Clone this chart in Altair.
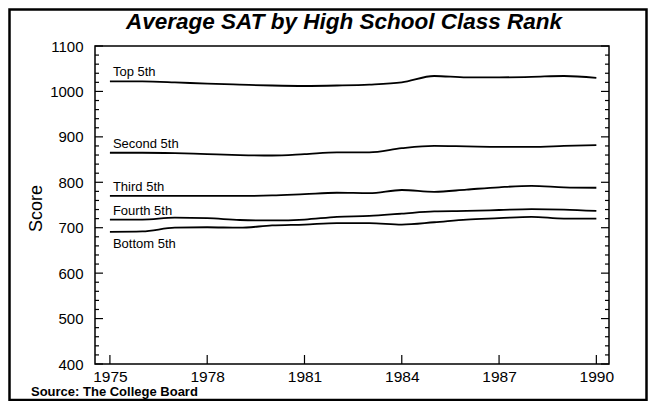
import altair as alt
import pandas as pd

years = list(range(1975, 1991))
top_5th = [1022, 1022, 1020, 1017, 1015, 1013, 1012, 1013, 1015, 1020, 1034, 1031, 1031, 1032, 1034, 1030]
second_5th = [865, 865, 864, 862, 860, 859, 862, 866, 866, 875, 880, 879, 878, 878, 880, 882]
third_5th = [770, 770, 770, 770, 770, 771, 774, 777, 776, 783, 779, 784, 789, 792, 789, 788]
fourth_5th = [718, 718, 722, 721, 717, 716, 718, 724, 726, 731, 736, 737, 739, 741, 740, 737]
bottom_5th = [691, 692, 700, 701, 700, 705, 707, 710, 710, 707, 712, 718, 721, 724, 720, 720]

series_names = ["Top 5th", "Second 5th", "Third 5th", "Fourth 5th", "Bottom 5th"]
series_values = [top_5th, second_5th, third_5th, fourth_5th, bottom_5th]

x_tick_values = [1975, 1978, 1981, 1984, 1987, 1990]
y_major_ticks = [400, 500, 600, 700, 800, 900, 1000, 1100]
y_minor_ticks = [420, 440, 460, 480, 520, 540, 560, 580, 620, 640, 660, 680,
                 720, 740, 760, 780, 820, 840, 860, 880, 920, 940, 960, 980,
                 1020, 1040, 1060, 1080]

title_text = "Average SAT by High School Class Rank"
source_text = "Source: The College Board"

FONT = "Liberation Sans"
W, H = 514, 318

rows = []
for name, vals in zip(series_names, series_values):
    for yr, v in zip(years, vals):
        rows.append({"year": yr, "score": v, "series": name})
df = pd.DataFrame(rows)

lab_df = pd.DataFrame({"series": series_names,
                       "year": [years[0]] * len(series_names),
                       "score": [v[0] for v in series_values]})

xscale = alt.Scale(domain=[1974.54, 1990.39], nice=False, zero=False)
yscale = alt.Scale(domain=[400, 1100], nice=False, zero=False)

xaxis = alt.Axis(values=x_tick_values, format="d", ticks=False, tickSize=0, domain=False,
                 grid=False, title=None, labelFontSize=15.5, labelFont=FONT,
                 labelColor="black", labelPadding=5)
yaxis = alt.Axis(values=y_major_ticks, format="d", ticks=False, tickSize=0, domain=False, grid=False,
                 title="Score", titleFont=FONT, titleFontSize=18, titleFontWeight="normal",
                 titleColor="black", titleX=-50, titleY=162, titleAngle=-90,
                 labelFontSize=15, labelFont=FONT, labelColor="black", labelPadding=12)

X = lambda f: alt.X(f, scale=xscale, axis=xaxis)
Y = lambda f: alt.Y(f, scale=yscale, axis=yaxis)

lines = alt.Chart(df).mark_line(color="black", strokeWidth=1.8, interpolate="monotone").encode(
    x=X("year:Q"), y=Y("score:Q"), detail="series:N",
)

labels_above = alt.Chart(lab_df).transform_filter(
    alt.datum.series != "Bottom 5th"
).mark_text(align="left", baseline="alphabetic", dx=3, dy=-5, fontSize=13, font=FONT, color="black").encode(
    x=X("year:Q"), y=Y("score:Q"), text="series:N",
)
labels_below = alt.Chart(lab_df).transform_filter(
    alt.datum.series == "Bottom 5th"
).mark_text(align="left", baseline="top", dx=3, dy=6, fontSize=13, font=FONT, color="black").encode(
    x=X("year:Q"), y=Y("score:Q"), text="series:N",
)

ymaj = pd.DataFrame({"score": y_major_ticks})
ymin = pd.DataFrame({"score": y_minor_ticks})
xt = pd.DataFrame({"year": x_tick_values})

def yrule(d, x1, x2):
    return alt.Chart(d).mark_rule(color="black", strokeWidth=1.2).encode(
        y=Y("score:Q"), x=alt.value(x1), x2=alt.value(x2))

tick_layers = [
    yrule(ymaj, 0, 8), yrule(ymin, 0, 4),
    yrule(ymaj, W, W - 8), yrule(ymin, W, W - 4),
    alt.Chart(xt).mark_rule(color="black", strokeWidth=1.2).encode(
        x=X("year:Q"), y=alt.value(H), y2=alt.value(H - 9)),
]

frame = alt.Chart(alt.Data(values=[{}])).mark_rect(filled=False, stroke="black", strokeWidth=2.5).encode(
    x=alt.value(-85.5), x2=alt.value(551.5), y=alt.value(-36.5), y2=alt.value(354))

title = alt.Chart(alt.Data(values=[{"t": title_text}])).mark_text(
    align="center", baseline="alphabetic", fontSize=22.5, fontStyle="italic", fontWeight="bold",
    font=FONT, color="black"
).encode(x=alt.value(249), y=alt.value(-17), text="t:N")

source = alt.Chart(alt.Data(values=[{"t": source_text}])).mark_text(
    align="left", baseline="alphabetic", fontSize=13, fontWeight="bold", font=FONT, color="black"
).encode(x=alt.value(-64), y=alt.value(350), text="t:N")

chart = alt.layer(frame, lines, labels_above, labels_below, *tick_layers, title, source).properties(
    width=W, height=H,
    autosize=alt.AutoSizeParams(type="none"),
    padding={"left": 87, "top": 38, "right": 39, "bottom": 37},
).configure_view(stroke="black", strokeWidth=1.5)

chart.save("out.html", embed_options={"renderer": "svg", "actions": False})
